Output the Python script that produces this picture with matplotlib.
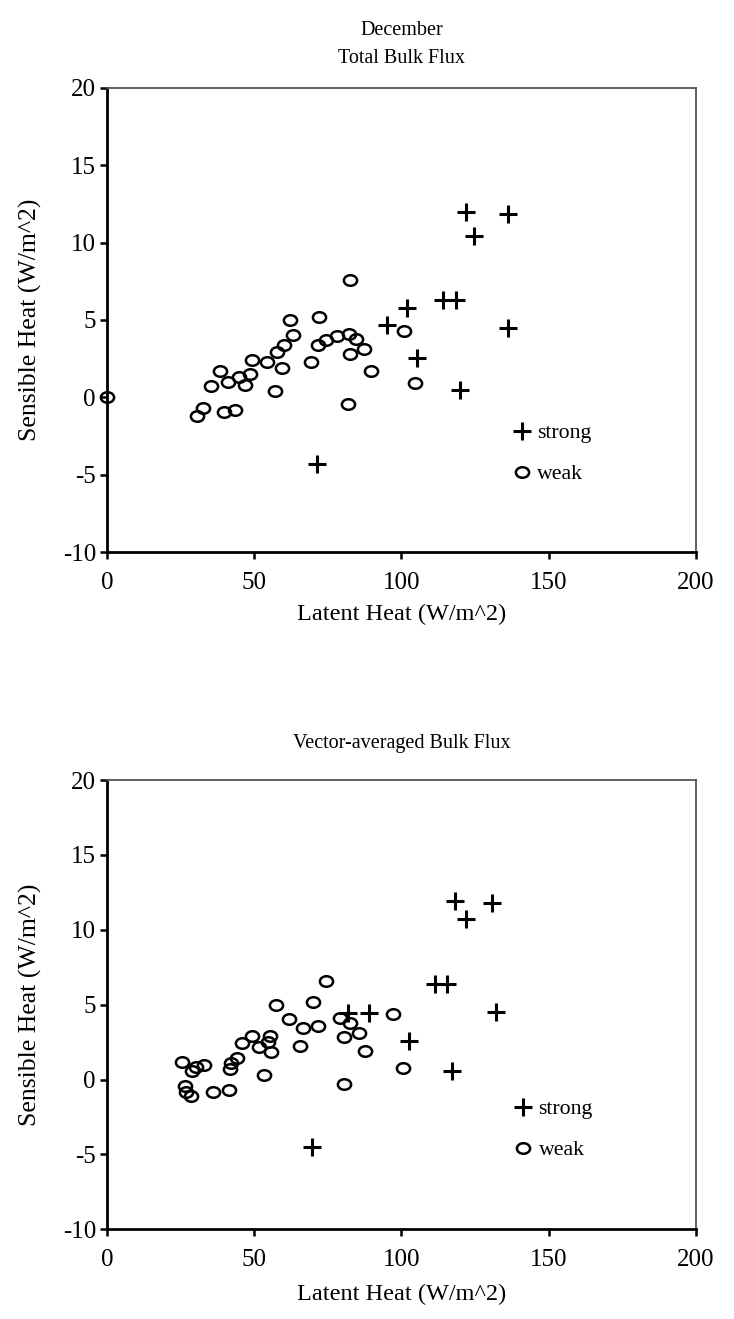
import matplotlib.pyplot as plt
from matplotlib.path import Path

plt.rcParams['font.family'] = ['Liberation Serif', 'DejaVu Serif']
plt.rcParams['axes.unicode_minus'] = False

# Total bulk flux (top panel)
tot_weak_lh = [0, 30.7, 32.5, 35.3, 38.4, 39.7, 41.1, 43.5, 44.9, 46.8, 48.6, 49.1,
               54.2, 57.2, 57.6, 59.3, 60.2, 62.3, 63.2, 69.4, 71.7, 72.0, 74.3,
               78.2, 81.9, 82.3, 82.5, 82.5, 84.7, 87.2, 89.5, 100.8, 104.5]
tot_weak_sh = [0, -1.2, -0.7, 0.7, 1.7, -0.95, 1.0, -0.8, 1.3, 0.8, 1.5, 2.4,
               2.3, 0.4, 2.9, 1.9, 3.4, 5.0, 4.0, 2.3, 3.4, 5.2, 3.7,
               3.95, -0.4, 4.1, 2.8, 7.6, 3.8, 3.1, 1.7, 4.3, 0.9]
tot_strong_lh = [71.2, 95.1, 101.9, 105.1, 114.1, 118.4, 119.8, 121.9, 124.6, 136.0, 136.0]
tot_strong_sh = [-4.3, 4.7, 5.8, 2.55, 6.3, 6.3, 0.5, 12.0, 10.45, 11.85, 4.5]

# Vector-averaged bulk flux (bottom panel)
vec_weak_lh = [25.5, 28.8, 30.3, 32.8, 26.6, 26.9, 28.5, 36.0, 41.3, 41.9, 42.1, 44.3,
               45.8, 49.2, 51.5, 53.4, 54.6, 55.4, 55.7, 57.4, 61.8, 66.4, 65.6,
               69.8, 71.8, 74.4, 79.2, 82.4, 80.5, 80.5, 85.4, 87.7, 97.1, 100.5]
vec_weak_sh = [1.2, 0.6, 0.82, 1.0, -0.4, -0.85, -1.07, -0.8, -0.69, 0.71, 1.09, 1.43,
               2.43, 2.88, 2.16, 0.33, 2.5, 2.9, 1.83, 4.95, 4.06, 3.46, 2.23,
               5.17, 3.6, 6.58, 4.12, 3.77, 2.83, -0.29, 3.12, 1.9, 4.39, 0.78]
vec_strong_lh = [69.5, 81.7, 89.0, 102.4, 111.4, 115.4, 117.1, 118.2, 121.9, 130.9, 132.1]
vec_strong_sh = [-4.5, 4.44, 4.44, 2.6, 6.4, 6.4, 0.56, 11.93, 10.7, 11.82, 4.5]

x_ticks = [0, 50, 100, 150, 200]
y_ticks = [-10, -5, 0, 5, 10, 15, 20]

# slightly flattened open circle like the original print
circ = Path.unit_circle()
ellipse = Path(circ.vertices * [1.0, 0.8], circ.codes)

fig = plt.figure(figsize=(7.34, 13.19), dpi=100)
ax1 = fig.add_axes([0.1458, 0.5815, 0.8024, 0.3518])
ax2 = fig.add_axes([0.1458, 0.0680, 0.8024, 0.3406])

panels = [
    (ax1, tot_strong_lh, tot_strong_sh, tot_weak_lh, tot_weak_sh,
     "December\nTotal Bulk Flux", 18, 7, (0.689, 0.212)),
    (ax2, vec_strong_lh, vec_strong_sh, vec_weak_lh, vec_weak_sh,
     "Vector-averaged Bulk Flux", 23, 9, (0.692, 0.222)),
]

for ax, s_x, s_y, w_x, w_y, title, tpad, xlpad, leg_pos in panels:
    ax.plot(s_x, s_y, linestyle="none", marker="+", markersize=13,
            markeredgewidth=2.2, color="black", label="strong", clip_on=False)
    ax.plot(w_x, w_y, linestyle="none", marker=ellipse, markersize=9.5,
            markeredgewidth=1.8, markerfacecolor="none", markeredgecolor="black",
            label="weak", clip_on=False)
    ax.set_xlim(0, 200)
    ax.set_ylim(-10, 20)
    ax.set_xticks(x_ticks)
    ax.set_yticks(y_ticks)
    ax.tick_params(direction="out", length=5, width=1.8, labelsize=18)
    ax.tick_params(axis="x", pad=9.5)
    ax.tick_params(axis="y", pad=3)
    for side in ["left", "bottom"]:
        ax.spines[side].set_linewidth(2)
    for side in ["top", "right"]:
        ax.spines[side].set_linewidth(1.3)
        ax.spines[side].set_color("#555555")
    ax.set_xlabel("Latent Heat (W/m^2)", fontsize=17.5, labelpad=xlpad)
    ax.set_ylabel("Sensible Heat (W/m^2)", fontsize=18.5, labelpad=15)
    ax.set_title(title, fontsize=14.5, pad=tpad, linespacing=1.65)
    ax.legend(loc="center left", bbox_to_anchor=leg_pos, frameon=False,
              fontsize=15.7, handlelength=0.8, handletextpad=0.3,
              labelspacing=0.95, borderpad=0, borderaxespad=0)

fig.savefig("out.png", dpi=100)
